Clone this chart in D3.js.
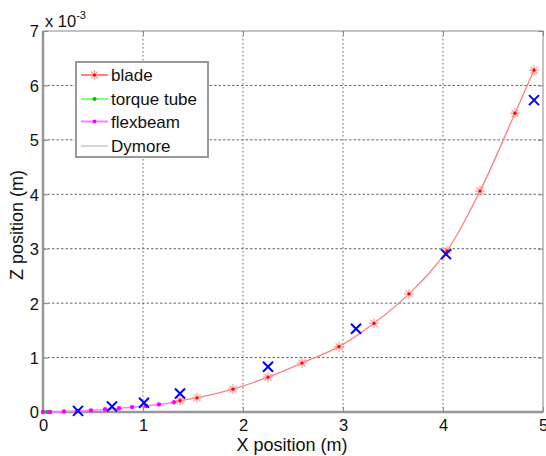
<!DOCTYPE html>
<html>
<head>
<meta charset="utf-8">
<script src="https://cdn.jsdelivr.net/npm/d3@7"></script>
<style>
  body { margin: 0; background: #fff; }
  svg { font-family: "Liberation Sans", Arial, sans-serif; }
</style>
</head>
<body>
<svg width="546" height="456"></svg>
<script>
// values, z in units of 1e-3 m
const bladeX = [1.37, 1.54, 1.90, 2.25, 2.59, 2.96, 3.31, 3.66, 4.04, 4.37, 4.72, 4.91];
const bladeZ = [0.21, 0.26, 0.42, 0.64, 0.90, 1.20, 1.63, 2.17, 2.96, 4.06, 5.49, 6.28];
const tubeX = [0.0, 0.04, 0.07];
const tubeZ = [0.0, 0.0, 0.0];
const flexX = [0.0, 0.07, 0.21, 0.34, 0.48, 0.62, 0.76, 0.89, 1.03, 1.16, 1.31, 1.37];
const flexZ = [0.0, 0.0, 0.01, 0.02, 0.03, 0.05, 0.07, 0.09, 0.11, 0.14, 0.18, 0.21];
const dymoreX = [0.35, 0.69, 1.01, 1.37, 2.25, 3.13, 4.03, 4.91];
const dymoreZ = [0.02, 0.10, 0.17, 0.34, 0.83, 1.53, 2.90, 5.73];
const xTicks = [0, 1, 2, 3, 4, 5];
const yTicks = [0, 1, 2, 3, 4, 5, 6, 7];
const legendNames = ['blade', 'torque tube', 'flexbeam', 'Dymore'];

const marginLeft = 43, marginTop = 31, width = 500, height = 381;
const svg = d3.select('svg');

const xScale = d3.scaleLinear().domain([0, 5]).range([0, width]);
const yScale = d3.scaleLinear().domain([0, 7]).range([height, 0]);

const chart = svg.append('g').attr('transform', `translate(${marginLeft}, ${marginTop})`);

// grid
chart.append('g').selectAll('line').data(xTicks.slice(1, -1)).enter().append('line')
  .attr('x1', d => xScale(d)).attr('x2', d => xScale(d))
  .attr('y1', 0).attr('y2', height)
  .attr('stroke', '#666').attr('stroke-dasharray', '1.5,2.5');
chart.append('g').selectAll('line').data(yTicks.slice(1, -1)).enter().append('line')
  .attr('y1', d => yScale(d)).attr('y2', d => yScale(d))
  .attr('x1', 0).attr('x2', width)
  .attr('stroke', '#666').attr('stroke-dasharray', '2.5,2');

// frame
chart.append('rect').attr('width', width).attr('height', height)
  .attr('fill', 'none').attr('stroke', '#888').attr('stroke-width', 1);
chart.append('line').attr('x1', 0).attr('x2', 0).attr('y1', 0).attr('y2', height)
  .attr('stroke', '#999').attr('stroke-width', 2.5);
chart.append('line').attr('x1', 0).attr('x2', width).attr('y1', height).attr('y2', height)
  .attr('stroke', '#999').attr('stroke-width', 2.5);

// axes with inward ticks
const xAxis = chart.append('g').attr('transform', `translate(0, ${height})`)
  .call(d3.axisBottom(xScale).tickValues(xTicks).tickSize(-5).tickPadding(0).tickFormat(d3.format('d')));
const yAxis = chart.append('g')
  .call(d3.axisLeft(yScale).tickValues(yTicks).tickSize(-5).tickPadding(0).tickFormat(d3.format('d')));
chart.append('g').attr('transform', `translate(${width}, 0)`)
  .call(d3.axisRight(yScale).tickValues(yTicks).tickSize(-5).tickFormat(''));
chart.append('g')
  .call(d3.axisTop(xScale).tickValues(xTicks).tickSize(-5).tickFormat(''));
chart.selectAll('.domain').remove();
chart.selectAll('.tick line').attr('stroke', '#888');
chart.selectAll('.tick text').attr('font-size', 16.5).attr('fill', '#111')
  .attr('font-family', '"Liberation Sans", Arial, sans-serif');
xAxis.selectAll('.tick text').attr('y', 19).attr('dy', 0);
yAxis.selectAll('.tick text').attr('x', -4).attr('dy', '0.36em');

// lines
const line = d3.line().x(d => xScale(d[0])).y(d => yScale(d[1])).curve(d3.curveCatmullRom);
const bladePts = d3.zip(bladeX, bladeZ);
const tubePts = d3.zip(tubeX, tubeZ);
const flexPts = d3.zip(flexX, flexZ);
const dymorePts = d3.zip(dymoreX, dymoreZ);

chart.append('path').datum(tubePts).attr('d', line)
  .attr('fill', 'none').attr('stroke', '#80ff80').attr('stroke-width', 1.5);
chart.append('path').datum(flexPts).attr('d', line)
  .attr('fill', 'none').attr('stroke', '#ff80ff').attr('stroke-width', 1.5);
chart.append('path').datum(bladePts).attr('d', line)
  .attr('fill', 'none').attr('stroke', '#ff8080').attr('stroke-width', 1.3);

const star = (g, cx, cy, r, col) => {
  [[1, 0], [0, 1], [0.7, 0.7], [0.7, -0.7]].forEach(([a, b]) => {
    g.append('line').attr('x1', cx - a * r).attr('x2', cx + a * r)
      .attr('y1', cy - b * r).attr('y2', cy + b * r)
      .attr('stroke', col).attr('stroke-width', 1.3);
  });
  g.append('circle').attr('cx', cx).attr('cy', cy).attr('r', 1.6).attr('fill', '#ff0000');
};

const marks = chart.append('g');
tubePts.forEach(p => marks.append('circle').attr('cx', xScale(p[0])).attr('cy', yScale(p[1]))
  .attr('r', 2).attr('fill', '#00c000'));
flexPts.forEach(p => marks.append('circle').attr('cx', xScale(p[0])).attr('cy', yScale(p[1]))
  .attr('r', 2.2).attr('fill', '#ff00ff'));
bladePts.forEach(p => star(marks, xScale(p[0]), yScale(p[1]), 5, '#ffa0a0'));

dymorePts.forEach(p => {
  const cx = xScale(p[0]), cy = yScale(p[1]), r = 5;
  marks.append('path').attr('d', `M${cx - r},${cy - r}L${cx + r},${cy + r}M${cx - r},${cy + r}L${cx + r},${cy - r}`)
    .attr('stroke', '#0000ff').attr('stroke-width', 2).attr('fill', 'none');
});

// legend
const lg = chart.append('g').attr('transform', 'translate(33, 31)');
lg.append('rect').attr('width', 132).attr('height', 95)
  .attr('fill', '#fff').attr('stroke', '#999').attr('stroke-width', 2);
const rowY = [13, 37, 59.5, 84];
const legCols = ['#ff8080', '#80ff80', '#ff80ff', '#d0d0f8'];
const dotCols = ['#ff0000', '#00c000', '#ff00ff', null];
legendNames.forEach((name, i) => {
  lg.append('line').attr('x1', 5).attr('x2', 32).attr('y1', rowY[i]).attr('y2', rowY[i])
    .attr('stroke', legCols[i]).attr('stroke-width', 2);
  if (i === 0) star(lg, 18.5, rowY[i], 5, '#ffa0a0');
  else if (dotCols[i]) lg.append('circle').attr('cx', 18.5).attr('cy', rowY[i]).attr('r', 2).attr('fill', dotCols[i]);
  lg.append('text').attr('x', 35).attr('y', rowY[i] + 6).attr('font-size', 17).attr('fill', '#111').text(name);
});

// labels
svg.append('text').attr('x', 292).attr('y', 451).attr('text-anchor', 'middle')
  .attr('font-size', 18).attr('fill', '#111').text('X position (m)');
svg.append('text').attr('transform', 'translate(23, 225) rotate(-90)').attr('text-anchor', 'middle')
  .attr('font-size', 18).attr('fill', '#111').text('Z position (m)');
const exp = svg.append('text').attr('x', 45).attr('y', 27).attr('font-size', 16.5).attr('fill', '#111');
exp.append('tspan').text('x 10');
exp.append('tspan').attr('font-size', 11).attr('dy', -8).text('-3');
</script>
</body>
</html>
